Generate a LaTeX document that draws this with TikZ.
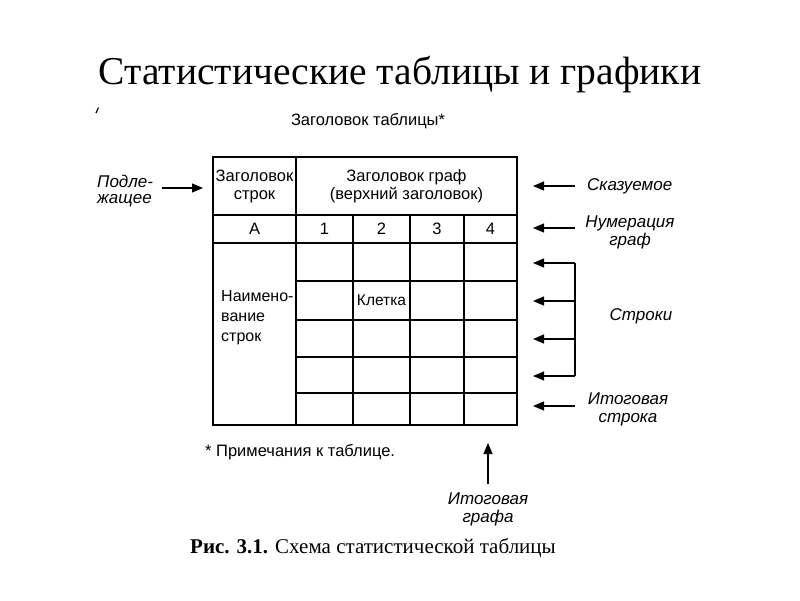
\documentclass[tikz,border=0pt]{standalone}
\usepackage{fontspec}
\setmainfont{Liberation Serif}
\newfontfamily\sansf{Liberation Sans}
\usetikzlibrary{arrows.meta}
\newcommand\mkcell[6]{\node[cell,minimum width={#4pt-#2pt},minimum height={#5pt-#3pt}] (#1) at (#2,#3) {#6};}
\begin{document}
\begin{tikzpicture}[x=1pt,y=-1pt,
  cell/.style={draw,line width=1.4pt,inner sep=0pt,outer sep=0pt,anchor=north west,align=center,
    font=\sansf\fontsize{16.5}{18}\selectfont},
  txt/.style={font=\sansf\fontsize{16.5}{18}\selectfont,inner sep=0pt},
  lbl/.style={font=\sansf\itshape\fontsize{17}{18}\selectfont,align=center,inner sep=0pt},
  arr/.style={line width=1.2pt,-{Triangle[length=11pt,width=9pt]}},
]
\useasboundingbox[fill=white] (0,0) rectangle (800,600);

% title
\node[font=\fontsize{39.5}{44}\selectfont,inner sep=0pt] (title) at (400,75) {Статистические таблицы и графики};
\draw[line width=1.2pt] (96,113) -- (98.5,107.5);

\node[txt] (ttl) at (368,121) {Заголовок таблицы*};

% table
\mkcell{hA}{213}{157}{296}{215}{Заголовок\\строк}
\mkcell{hB}{296}{157}{517}{215}{Заголовок граф\\(верхний заголовок)}
\mkcell{nA}{213}{215}{296}{243}{А}
\mkcell{n1}{296}{215}{353}{243}{1}
\mkcell{n2}{353}{215}{410}{243}{2}
\mkcell{n3}{410}{215}{464}{243}{3}
\mkcell{n4}{464}{215}{517}{243}{4}
\mkcell{nm}{213}{243}{296}{425}{}
\foreach \c/\xa/\xb in {1/296/353,2/353/410,3/410/464,4/464/517}
  \foreach \r/\ya/\yb in {1/243/281,2/281/320,3/320/357,4/357/393,5/393/425}
    {\mkcell{b\r\c}{\xa}{\ya}{\xb}{\yb}{}}
\node[txt,anchor=center,font=\sansf\fontsize{15.5}{18}\selectfont] (kl) at (b22.center) {Клетка};
\node[txt,anchor=north west,align=left,font=\sansf\fontsize{16}{20}\selectfont] (nmt) at (221,290) {Наимено-\\вание\\строк};

% left label
\node[lbl,align=left,anchor=west,font=\sansf\itshape\fontsize{17}{15.5}\selectfont] (pod) at (97,191) {Подле-\\жащее};
\coordinate (pt) at (162,188);
\draw[arr,shorten >=10pt] (pt) -- (pt -| hA.west);

% right labels
\node[lbl,anchor=west] (skaz) at (587,186) {Сказуемое};
\node[lbl] (num) at (630,232) {Нумерация\\граф};
\node[lbl] (str) at (641,316) {Строки};
\node[lbl] (itr) at (628,409) {Итоговая\\строка};

\coordinate (s0) at (575,186);
\coordinate (s1) at (575,228);
\draw[arr,shorten >=16pt] (s0) -- (s0 -| hB.east);
\draw[arr,shorten >=16pt] (s1) -- (s1 -| n4.east);
\coordinate (r1) at (575,263);
\coordinate (r2) at (575,301);
\coordinate (r3) at (575,339);
\coordinate (r4) at (575,376);
\coordinate (r5) at (575,406);
\draw[line width=1.2pt] (r1) -- (r4);
\foreach \i in {1,2,3,4,5} \draw[arr,shorten >=16pt] (r\i) -- (r\i -| b14.east);

% bottom
\node[txt,anchor=west] (note) at (205,452) {* Примечания к таблице.};
\coordinate (ig) at (488,484);
\draw[arr,shorten >=18pt] (ig) -- (ig |- b54.south);
\node[lbl] (itg) at (488,509) {Итоговая\\графа};

\node[font=\fontsize{21}{24}\selectfont,inner sep=0pt] (cap) at (373,548) {\textbf{Рис. 3.1.} Схема статистической таблицы};
\end{tikzpicture}
\end{document}
